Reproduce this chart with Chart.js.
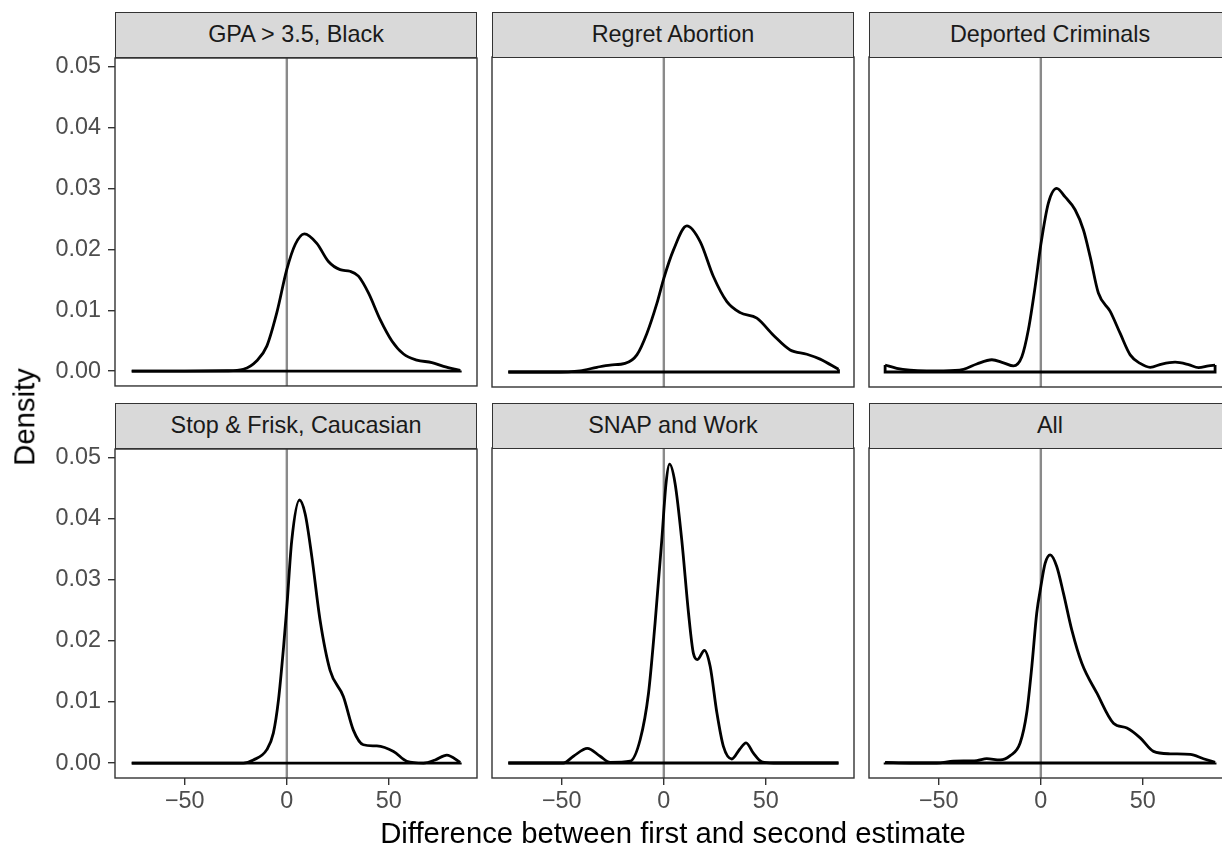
<!DOCTYPE html>
<html>
<head>
<meta charset="utf-8">
<script src="https://cdn.jsdelivr.net/npm/chart.js@4.4.0/dist/chart.umd.min.js"></script>
<style>
  body { margin: 0; width: 1222px; height: 848px; overflow: hidden; background: #fff; position: relative; font-family: 'Liberation Sans', Arial, sans-serif; }
  canvas { position: absolute; }
  .strip { position: absolute; background: #d9d9d9; border: 1.4px solid #333333; box-sizing: border-box; color: #1a1a1a; font-size: 23.4px; text-align: center; }
  .title { position: absolute; color: #000; font-size: 29.3px; line-height: 1; white-space: nowrap; }
</style>
</head>
<body>
<script>
// facet labels, in reading order
const facetLabels = ['GPA > 3.5, Black', 'Regret Abortion', 'Deported Criminals', 'Stop & Frisk, Caucasian', 'SNAP and Work', 'All'];

// density curves (x = difference, y = density)
const gpaX = [-76.0, -50, -29.4, -21.3, -14.7, -9.8, -4.9, 0, 4.1, 8.6, 14.7, 20.4, 26.1, 31.0, 35.1, 40.0, 45.7, 51.5, 57.2, 63.7, 71.1, 76.8, 85.0];
const gpaY = [0, 0, 0.00005, 0.0003, 0.0017, 0.0041, 0.0096, 0.0167, 0.0208, 0.02255, 0.0210, 0.0180, 0.01667, 0.0164, 0.0156, 0.01285, 0.0085, 0.00495, 0.0028, 0.0018, 0.0014, 0.00077, 0.0001];

const regretX = [-76.2, -55, -41.0, -32.8, -26.3, -19.0, -13.2, -8.3, -3.4, 0, 4.7, 11.3, 17.8, 24.3, 30.9, 37.4, 45.6, 53.7, 61.9, 70.1, 76.6, 85.6];
const regretY = [0, 0, 0.0002, 0.00077, 0.00114, 0.0014, 0.0028, 0.0063, 0.0112, 0.0153, 0.0199, 0.02386, 0.0213, 0.0156, 0.0115, 0.0097, 0.0088, 0.0060, 0.0036, 0.0029, 0.0021, 0.00044];

const deportedX = [-76.3, -70.6, -64.1, -55.9, -47.7, -37.9, -31.4, -24.0, -18.3, -13.4, -9.3, -6.1, -2.8, 0, 3.7, 7.8, 11.9, 16.8, 20.9, 24.2, 28.2, 34.0, 38.9, 43.8, 48.7, 53.6, 59.3, 65.8, 72.4, 77.3, 82.2, 85.4];
const deportedY = [0.00114, 0.0006, 0.0003, 0.0002, 0.0002, 0.00044, 0.0013, 0.0020, 0.0015, 0.0010, 0.0025, 0.0069, 0.0139, 0.0208, 0.0276, 0.0300, 0.0286, 0.0265, 0.0232, 0.0188, 0.0129, 0.0099, 0.0063, 0.0028, 0.0014, 0.00077, 0.0013, 0.0016, 0.0012, 0.0007, 0.0010, 0.00114];

const friskX = [-76.0, -50, -21.3, -16.4, -9.8, -6.6, -4.1, -1.6, 0, 2.4, 6.2, 9.0, 12.3, 16.3, 21.2, 27.7, 32.6, 37.5, 44.1, 52.3, 58.8, 67.0, 72.7, 78.4, 85.0];
const friskY = [0, 0, 0, 0.0005, 0.0022, 0.0049, 0.0103, 0.0190, 0.0255, 0.0364, 0.0431, 0.0408, 0.0337, 0.0234, 0.0152, 0.0109, 0.0054, 0.0030, 0.0028, 0.0019, 0.0003, 0, 0.0005, 0.0013, 0.0001];

const snapX = [-76.2, -60, -49.2, -44.3, -37.5, -31.2, -26.3, -16.5, -11.6, -7.5, -4.3, -1.0, 1.1, 2.8, 5.5, 8.8, 12.1, 14.5, 16.5, 19.9, 22.7, 26.0, 29.2, 33.3, 37.1, 40.3, 43.9, 48.0, 53.7, 70, 85.6];
const snapY = [0, 0, 0, 0.0011, 0.0024, 0.0011, 0.0001, 0.0003, 0.0038, 0.0114, 0.0228, 0.0364, 0.0457, 0.0488, 0.0457, 0.0364, 0.0245, 0.0179, 0.0169, 0.0184, 0.0158, 0.0082, 0.0027, 0.00065, 0.0022, 0.0033, 0.0016, 0.0002, 0, 0, 0];

const allX = [-76.3, -64.1, -51.0, -42.8, -31.4, -26.5, -20.0, -15.0, -10.1, -6.9, -4.4, -2.0, 0, 2.1, 4.6, 7.8, 11.1, 15.2, 20.1, 27.5, 35.6, 42.2, 48.7, 55.2, 63.4, 73.2, 79.7, 85.4];
const allY = [0.0001, 0, 0, 0.0003, 0.0004, 0.0007, 0.0005, 0.0012, 0.0033, 0.0082, 0.0158, 0.0245, 0.0288, 0.0326, 0.0340, 0.0321, 0.0277, 0.0217, 0.0163, 0.0114, 0.0065, 0.0057, 0.0041, 0.0019, 0.0015, 0.0014, 0.0007, 0.0001];

const seriesX = [gpaX, regretX, deportedX, friskX, snapX, allX];
const seriesY = [gpaY, regretY, deportedY, friskY, snapY, allY];

// axes
const xTicks = [-50, 0, 50];
const xTickLabels = ['\u221250', '0', '50'];
const yTicks = [0, 0.01, 0.02, 0.03, 0.04, 0.05];
const yTickLabels = ['0.00', '0.01', '0.02', '0.03', '0.04', '0.05'];
const xMin = -84.2, xMax = 93.2;
const yMin = -0.00245, yMax = 0.05145;
const refLine = 0;

// layout of the facet grid (page pixels)
const panelLeft = [115, 492, 869];
const panelTop = [57, 448];
const stripTop = [12, 403];
const panelW = 362, panelH = 330, stripH = 46;
const PAD = 20, AXW = 80, AXH = 60;
const FONT = "'Liberation Sans', Arial, sans-serif";

const panelBorder = {
    id: 'panelBorder',
    afterDatasetsDraw(chart) {
        const a = chart.chartArea;
        const ctx = chart.ctx;
        ctx.save();
        ctx.strokeStyle = '#333333';
        ctx.lineWidth = 1.4;
        ctx.strokeRect(a.left, a.top, a.right - a.left, a.bottom - a.top);
        ctx.restore();
    }
};

function drawPanel(i) {
    const row = Math.floor(i / 3);
    const col = i % 3;
    const showY = col === 0;
    const showX = row === 1;

    const canvas = document.createElement('canvas');
    const w = panelW + 2 * PAD + (showY ? AXW : 0);
    const h = panelH + 2 * PAD + (showX ? AXH : 0);
    canvas.width = w;
    canvas.height = h;
    canvas.style.left = (panelLeft[col] - PAD - (showY ? AXW : 0)) + 'px';
    canvas.style.top = (panelTop[row] - PAD) + 'px';
    document.body.appendChild(canvas);

    const xs = seriesX[i];
    const ys = seriesY[i];
    const curve = xs.map((x, k) => ({ x: x, y: ys[k] }));
    const first = curve[0];
    const last = curve[curve.length - 1];
    // closing edge of the density outline
    const base = [first, { x: first.x, y: 0 }, { x: last.x, y: 0 }, last];
    const vline = [{ x: refLine, y: yMin }, { x: refLine, y: yMax }];

    new Chart(canvas, {
        type: 'line',
        data: {
            datasets: [
                { data: curve, borderColor: '#000', borderWidth: 2.8, pointRadius: 0, cubicInterpolationMode: 'monotone', fill: false },
                { data: base, borderColor: '#000', borderWidth: 2.8, pointRadius: 0, tension: 0, fill: false },
                { data: vline, borderColor: '#8a8a8a', borderWidth: 2.4, pointRadius: 0, fill: false }
            ]
        },
        options: {
            responsive: false,
            animation: false,
            events: [],
            layout: { padding: PAD },
            plugins: { legend: { display: false }, tooltip: { enabled: false } },
            scales: {
                x: {
                    type: 'linear', min: xMin, max: xMax, display: showX,
                    afterFit: s => { if (showX) s.height = AXH; },
                    afterBuildTicks: s => { s.ticks = xTicks.map(v => ({ value: v })); },
                    grid: { drawOnChartArea: false, drawTicks: true, tickLength: 7, color: '#333333', lineWidth: 1.4 },
                    border: { display: false },
                    ticks: {
                        color: '#4d4d4d', font: { size: 23.4, family: FONT }, padding: 3,
                        maxRotation: 0, autoSkip: false,
                        callback: v => xTickLabels[xTicks.indexOf(v)]
                    }
                },
                y: {
                    type: 'linear', min: yMin, max: yMax, display: showY,
                    afterFit: s => { if (showY) s.width = AXW; },
                    afterBuildTicks: s => { s.ticks = yTicks.map(v => ({ value: v })); },
                    grid: { drawOnChartArea: false, drawTicks: true, tickLength: 7, color: '#333333', lineWidth: 1.4 },
                    border: { display: false },
                    ticks: {
                        color: '#4d4d4d', font: { size: 23.4, family: FONT }, padding: 7,
                        autoSkip: false,
                        callback: v => yTickLabels[yTicks.indexOf(v)]
                    }
                }
            }
        },
        plugins: [panelBorder]
    });

    const strip = document.createElement('div');
    strip.className = 'strip';
    strip.style.left = panelLeft[col] + 'px';
    strip.style.top = stripTop[row] + 'px';
    strip.style.width = panelW + 'px';
    strip.style.height = stripH + 'px';
    strip.style.lineHeight = (stripH - 3) + 'px';
    strip.textContent = facetLabels[i];
    document.body.appendChild(strip);
}

for (let i = 0; i < facetLabels.length; i++) {
    drawPanel(i);
}

const yTitle = document.createElement('div');
yTitle.className = 'title';
yTitle.textContent = 'Density';
yTitle.style.left = '24px';
yTitle.style.top = '417px';
yTitle.style.transform = 'translate(-50%, -50%) rotate(-90deg)';
document.body.appendChild(yTitle);

const xTitle = document.createElement('div');
xTitle.className = 'title';
xTitle.textContent = 'Difference between first and second estimate';
xTitle.style.left = '673px';
xTitle.style.top = '818px';
xTitle.style.transform = 'translateX(-50%)';
document.body.appendChild(xTitle);
</script>
</body>
</html>
